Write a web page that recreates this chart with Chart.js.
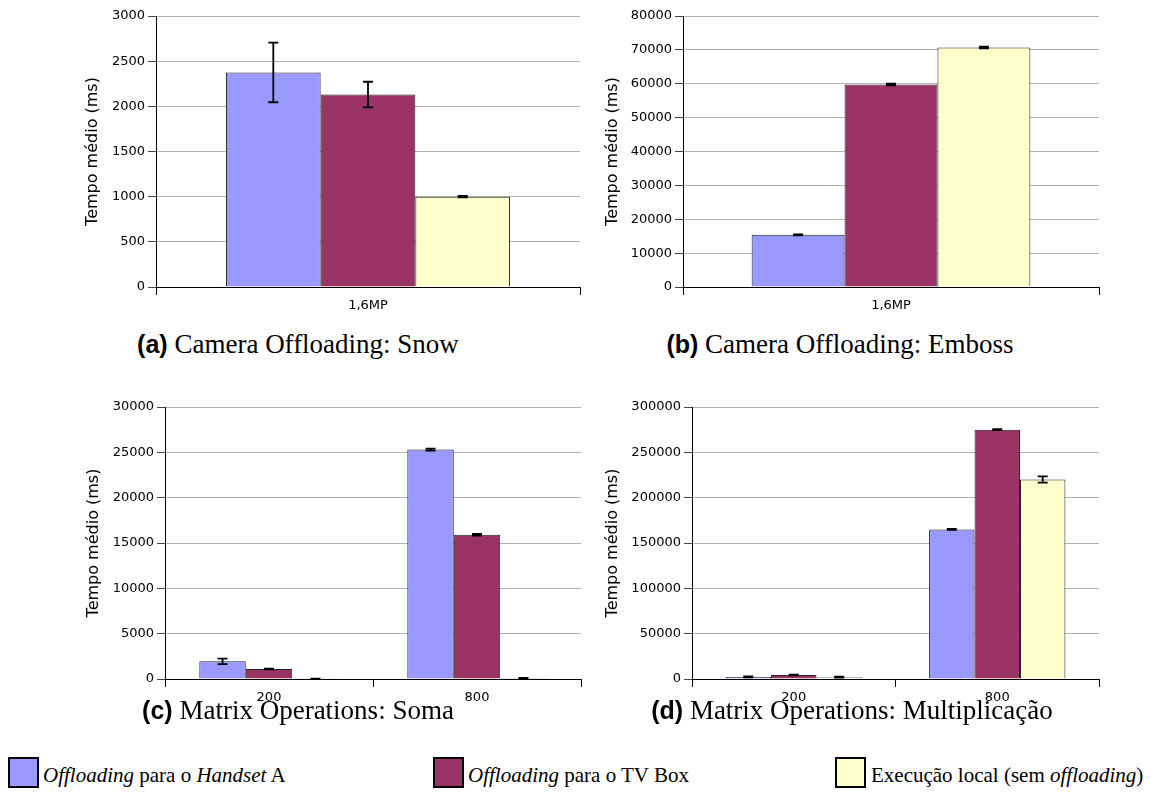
<!DOCTYPE html>
<html>
<head>
<meta charset="utf-8">
<script src="https://cdn.jsdelivr.net/npm/chart.js@4"></script>
<style>
  body { margin: 0; background: #fff; width: 1151px; height: 793px; position: relative; overflow: hidden; }
  canvas { position: absolute; }
  .cap { position: absolute; width: 600px; text-align: center; font-family: "Liberation Serif", serif; font-size: 27px; line-height: 30px; color: #000; white-space: nowrap; }
  .cap b { font-family: "Liberation Sans", sans-serif; font-weight: bold; font-size: 25px; }
  .leg { position: absolute; font-family: "Liberation Serif", serif; font-size: 21px; line-height: 24px; color: #000; white-space: nowrap; }
  .sw { position: absolute; width: 27px; height: 27px; border: 2px solid #000; }
</style>
</head>
<body>
<canvas id="chartA" width="517" height="317" style="left:83px;top:0px"></canvas>
<canvas id="chartB" width="516" height="317" style="left:603px;top:0px"></canvas>
<canvas id="chartC" width="517" height="318" style="left:84px;top:391px"></canvas>
<canvas id="chartD" width="516" height="318" style="left:603px;top:391px"></canvas>

<div class="cap" style="left:-2px;top:329px"><b>(a)</b> Camera Offloading: Snow</div>
<div class="cap" style="left:540px;top:329px"><b>(b)</b> Camera Offloading: Emboss</div>
<div class="cap" style="left:-2px;top:695px"><b>(c)</b> Matrix Operations: Soma</div>
<div class="cap" style="left:552px;top:695px"><b>(d)</b> Matrix Operations: Multiplicação</div>

<div class="sw" style="left:8px;top:757px;background:#9999ff"></div>
<div class="leg" style="left:43px;top:763px"><i>Offloading</i> para o <i>Handset</i> A</div>
<div class="sw" style="left:433px;top:757px;background:#993366"></div>
<div class="leg" style="left:468px;top:763px"><i>Offloading</i> para o TV Box</div>
<div class="sw" style="left:835px;top:757px;background:#ffffcc"></div>
<div class="leg" style="left:871px;top:763px">Execução local (sem <i>offloading</i>)</div>

<script>
// (a) Camera Offloading: Snow
const camLabels = ["1,6MP"];
const snowHandset = [2375];
const snowHandsetErr = [330];
const snowTvBox = [2130];
const snowTvBoxErr = [142];
const snowLocal = [1000];
const snowLocalErr = [8];

// (b) Camera Offloading: Emboss
const embossHandset = [15400];
const embossHandsetErr = [150];
const embossTvBox = [59800];
const embossTvBoxErr = [250];
const embossLocal = [70700];
const embossLocalErr = [250];

// (c) Matrix Operations: Soma
const matrixLabels = ["200", "800"];
const somaHandset = [1950, 25300];
const somaHandsetErr = [300, 120];
const somaTvBox = [1100, 15900];
const somaTvBoxErr = [40, 90];
const somaLocal = [30, 100];
const somaLocalErr = [10, 20];

// (d) Matrix Operations: Multiplicação
const multHandset = [2300, 165000];
const multHandsetErr = [500, 600];
const multTvBox = [4400, 275000];
const multTvBoxErr = [500, 500];
const multLocal = [2000, 220000];
const multLocalErr = [500, 3500];

const seriesNames = ["Offloading para o Handset A", "Offloading para o TV Box", "Execução local (sem offloading)"];
const seriesColors = ["#9999ff", "#993366", "#ffffcc"];

// draws the +/- bars on top of each bar, using the chart's own y scale
const errorBars = {
    id: "errorBars",
    afterDatasetsDraw(chart) {
        const ctx = chart.ctx;
        const y = chart.scales.y;
        ctx.save();
        ctx.strokeStyle = "#000";
        ctx.lineWidth = 1.8;
        chart.data.datasets.forEach((ds, i) => {
            const meta = chart.getDatasetMeta(i);
            meta.data.forEach((bar, j) => {
                const err = ds.errors ? ds.errors[j] : 0;
                if (!err) return;
                const top = y.getPixelForValue(ds.data[j] + err);
                const bot = y.getPixelForValue(ds.data[j] - err);
                const x = bar.x;
                ctx.beginPath();
                ctx.moveTo(x, top); ctx.lineTo(x, bot);
                ctx.moveTo(x - 5, top); ctx.lineTo(x + 5, top);
                ctx.moveTo(x - 5, bot); ctx.lineTo(x + 5, bot);
                ctx.stroke();
            });
        });
        ctx.restore();
    }
};

function makeChart(id, labels, values, errors, max, step, yWidth) {
    const datasets = values.map((v, i) => ({
        label: seriesNames[i],
        data: v,
        errors: errors[i],
        backgroundColor: seriesColors[i],
        borderColor: "#222",
        borderWidth: 1,
        categoryPercentage: 0.67,
        barPercentage: 1.0
    }));
    return new Chart(document.getElementById(id), {
        type: "bar",
        data: { labels: labels, datasets: datasets },
        plugins: [errorBars],
        options: {
            responsive: false,
            animation: false,
            devicePixelRatio: 1,
            layout: { padding: { top: 16, right: 20, left: 0, bottom: 0 } },
            plugins: { legend: { display: false }, tooltip: { enabled: false } },
            scales: {
                x: {
                    grid: { offset: true, drawOnChartArea: false, tickLength: 8, color: "#000" },
                    border: { color: "#000", width: 1 },
                    ticks: { color: "#000", font: { family: "DejaVu Sans", size: 13 }, padding: 3 },
                    afterFit(scale) { scale.height = 30; }
                },
                y: {
                    min: 0,
                    max: max,
                    ticks: {
                        stepSize: step,
                        color: "#000",
                        padding: 3,
                        font: { family: "DejaVu Sans", size: 13 },
                        callback: v => String(v)
                    },
                    grid: { color: "#b3b3b3", tickColor: "#444", tickLength: 8, lineWidth: 1 },
                    border: { color: "#000", width: 1 },
                    title: {
                        display: true,
                        text: "Tempo médio (ms)",
                        color: "#000",
                        padding: 0,
                        font: { family: "DejaVu Sans", size: 16, weight: "normal" }
                    },
                    afterFit(scale) { scale.width = yWidth; }
                }
            }
        }
    });
}

makeChart("chartA", camLabels,
    [snowHandset, snowTvBox, snowLocal],
    [snowHandsetErr, snowTvBoxErr, snowLocalErr], 3000, 500, 73);
makeChart("chartB", camLabels,
    [embossHandset, embossTvBox, embossLocal],
    [embossHandsetErr, embossTvBoxErr, embossLocalErr], 80000, 10000, 80);
makeChart("chartC", matrixLabels,
    [somaHandset, somaTvBox, somaLocal],
    [somaHandsetErr, somaTvBoxErr, somaLocalErr], 30000, 5000, 81);
makeChart("chartD", matrixLabels,
    [multHandset, multTvBox, multLocal],
    [multHandsetErr, multTvBoxErr, multLocalErr], 300000, 50000, 89);
</script>
</body>
</html>
